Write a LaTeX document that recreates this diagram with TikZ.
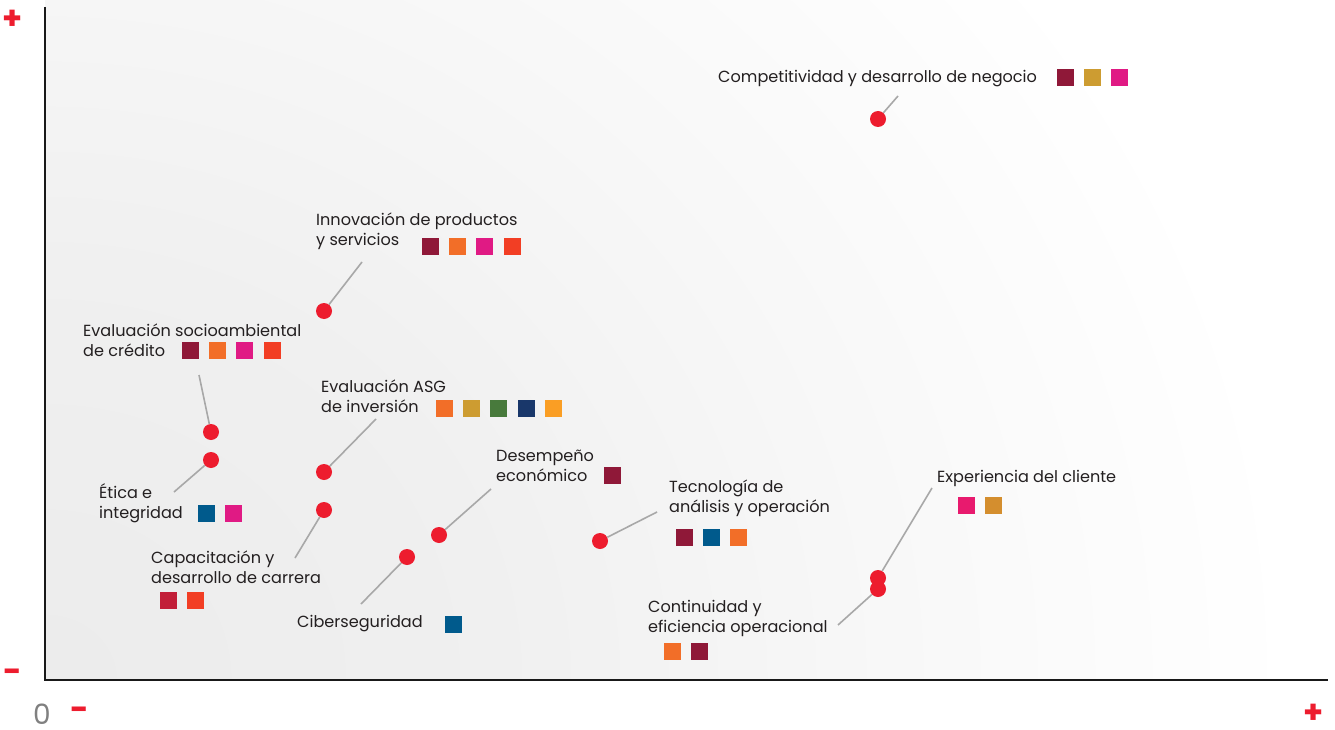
\documentclass[tikz,border=0pt]{standalone}
\usepackage{fontspec}
\setmainfont{Poppins}
\usepackage{tikz}
\usetikzlibrary{positioning}

\definecolor{hotred}{HTML}{ED1C2E}
\definecolor{leadgray}{HTML}{A8A8A8}
\definecolor{textdark}{HTML}{231F20}
\definecolor{zerogray}{HTML}{808080}
\definecolor{sdgmaroon}{HTML}{8F1838}
\definecolor{sdggold}{HTML}{CD9C31}
\definecolor{sdgmagenta}{HTML}{E01A84}
\definecolor{sdgorange}{HTML}{F26E28}
\definecolor{sdgred}{HTML}{F23E24}
\definecolor{sdggreen}{HTML}{487A3C}
\definecolor{sdgnavy}{HTML}{19376A}
\definecolor{sdgamber}{HTML}{FA9E24}
\definecolor{sdgblue}{HTML}{005A8C}
\definecolor{sdgcrimson}{HTML}{C21E38}
\definecolor{sdgpink}{HTML}{E81A6E}
\definecolor{sdgochre}{HTML}{D48E2E}

\pgfdeclareradialshading{bgshade}{\pgfpointorigin}{color(0bp)=(gray!15); color(8.75bp)=(gray!12); color(16.25bp)=(gray!6); color(25bp)=(white); color(50bp)=(white)}

\begin{document}
\begin{tikzpicture}
        [
            x = 1pt, y = -1pt,
            node distance = 10pt,
            hotspot/.style = {circle, fill=hotred, inner sep=0pt, minimum size=16pt},
            leader/.style = {draw=leadgray, line width=1.6pt},
            axis/.style = {draw=black!90, line width=2.5pt},
            tag/.style = {anchor=west, align=left, inner sep=0pt, text=textdark,
                font=\fontsize{16.1}{20}\selectfont},
            sdg/.style = {rectangle, inner sep=0pt, minimum size=17pt},
            sign/.style = {text=hotred, inner sep=0pt, font=\fontsize{32}{32}\selectfont\bfseries},
            zero/.style = {text=zerogray, inner sep=0pt, font=\fontsize{28}{28}\selectfont}
        ]
        \useasboundingbox (0,0) rectangle (1335,730);
        % background
        \begin{scope}
            \clip (45,0) rectangle (1328,680);
            \shade [shading=bgshade] (45,680) ellipse [x radius=1250, y radius=1150];
        \end{scope}
        % axes
        \coordinate (ytop) at (45,7);
        \coordinate (origin) at (45,680);
        \coordinate (xend) at (1328,680);
        \draw [axis] (ytop) -- (origin) -- (xend);
        \node [sign] (yplus) at (13,20) {+};
        \node [sign] (yminus) at (13,676) {-};
        \node [zero] (zero) at (42,714) {0};
        \node [sign] (xminus) at (80,714) {-};
        \node [sign] (xplus) at (1314,714) {+};
        % topics
        \node [hotspot] (compet) at (878,119) {};
        \node [hotspot] (innov) at (324,311) {};
        \node [hotspot] (socio) at (211,432) {};
        \node [hotspot] (etica) at (211,460) {};
        \node [hotspot] (asg) at (324,472) {};
        \node [hotspot] (capac) at (324,510) {};
        \node [hotspot] (desemp) at (439,535) {};
        \node [hotspot] (ciber) at (407,557) {};
        \node [hotspot] (tecno) at (600,541) {};
        \node [hotspot] (exper) at (878,578) {};
        \node [hotspot] (contin) at (878,589) {};
        \coordinate (compet end) at (898,96);
        \coordinate (innov end) at (362,262);
        \coordinate (socio end) at (199,375);
        \coordinate (etica end) at (174,492);
        \coordinate (asg end) at (376,419);
        \coordinate (capac end) at (295,558);
        \coordinate (desemp end) at (491,489);
        \coordinate (ciber end) at (361,604);
        \coordinate (tecno end) at (657,512);
        \coordinate (exper end) at (932,488);
        \coordinate (contin end) at (838,625);
        \draw [leader] (compet) -- (compet end);
        \draw [leader] (innov) -- (innov end);
        \draw [leader] (socio) -- (socio end);
        \draw [leader] (etica) -- (etica end);
        \draw [leader] (asg) -- (asg end);
        \draw [leader] (capac) -- (capac end);
        \draw [leader] (desemp) -- (desemp end);
        \draw [leader] (ciber) -- (ciber end);
        \draw [leader] (tecno) -- (tecno end);
        \draw [leader] (exper) -- (exper end);
        \draw [leader] (contin) -- (contin end);
        % labels
        \node [tag] (compet tag) at (718,79) {Competitividad y desarrollo de negocio};
        \node [tag] (innov tag) at (316,231) {Innovación de productos\\y servicios};
        \node [tag] (socio tag) at (83,340) {Evaluación socioambiental\\de crédito};
        \node [tag] (etica tag) at (99,503) {Ética e\\integridad};
        \node [tag] (asg tag) at (321,396) {Evaluación ASG\\de inversión};
        \node [tag] (capac tag) at (151,567) {Capacitación y\\desarrollo de carrera};
        \node [tag] (desemp tag) at (496,466) {Desempeño\\económico};
        \node [tag] (ciber tag) at (297,624) {Ciberseguridad};
        \node [tag] (tecno tag) at (669,498) {Tecnología de\\análisis y operación};
        \node [tag] (exper tag) at (937,478) {Experiencia del cliente};
        \node [tag] (contin tag) at (648,618) {Continuidad y\\eficiencia operacional};
        % goal squares
        \node [sdg, fill=sdgmaroon] (compet a) at (1065,78) {};
        \node [sdg, fill=sdggold, right=of compet a] (compet b) {};
        \node [sdg, fill=sdgmagenta, right=of compet b] (compet c) {};
        \node [sdg, fill=sdgmaroon] (innov a) at (430,246) {};
        \node [sdg, fill=sdgorange, right=of innov a] (innov b) {};
        \node [sdg, fill=sdgmagenta, right=of innov b] (innov c) {};
        \node [sdg, fill=sdgred, right=of innov c] (innov d) {};
        \node [sdg, fill=sdgmaroon] (socio a) at (190,350) {};
        \node [sdg, fill=sdgorange, right=of socio a] (socio b) {};
        \node [sdg, fill=sdgmagenta, right=of socio b] (socio c) {};
        \node [sdg, fill=sdgred, right=of socio c] (socio d) {};
        \node [sdg, fill=sdgblue] (etica a) at (206,513) {};
        \node [sdg, fill=sdgmagenta, right=of etica a] (etica b) {};
        \node [sdg, fill=sdgorange] (asg a) at (444,408) {};
        \node [sdg, fill=sdggold, right=of asg a] (asg b) {};
        \node [sdg, fill=sdggreen, right=of asg b] (asg c) {};
        \node [sdg, fill=sdgnavy, right=of asg c] (asg d) {};
        \node [sdg, fill=sdgamber, right=of asg d] (asg e) {};
        \node [sdg, fill=sdgcrimson] (capac a) at (168,600) {};
        \node [sdg, fill=sdgred, right=of capac a] (capac b) {};
        \node [sdg, fill=sdgmaroon] (desemp a) at (612,475) {};
        \node [sdg, fill=sdgblue] (ciber a) at (453,624) {};
        \node [sdg, fill=sdgmaroon] (tecno a) at (684,537) {};
        \node [sdg, fill=sdgblue, right=of tecno a] (tecno b) {};
        \node [sdg, fill=sdgorange, right=of tecno b] (tecno c) {};
        \node [sdg, fill=sdgpink] (exper a) at (966,505) {};
        \node [sdg, fill=sdgochre, right=of exper a] (exper b) {};
        \node [sdg, fill=sdgorange] (contin a) at (672,651) {};
        \node [sdg, fill=sdgmaroon, right=of contin a] (contin b) {};
    \end{tikzpicture}
\end{document}
